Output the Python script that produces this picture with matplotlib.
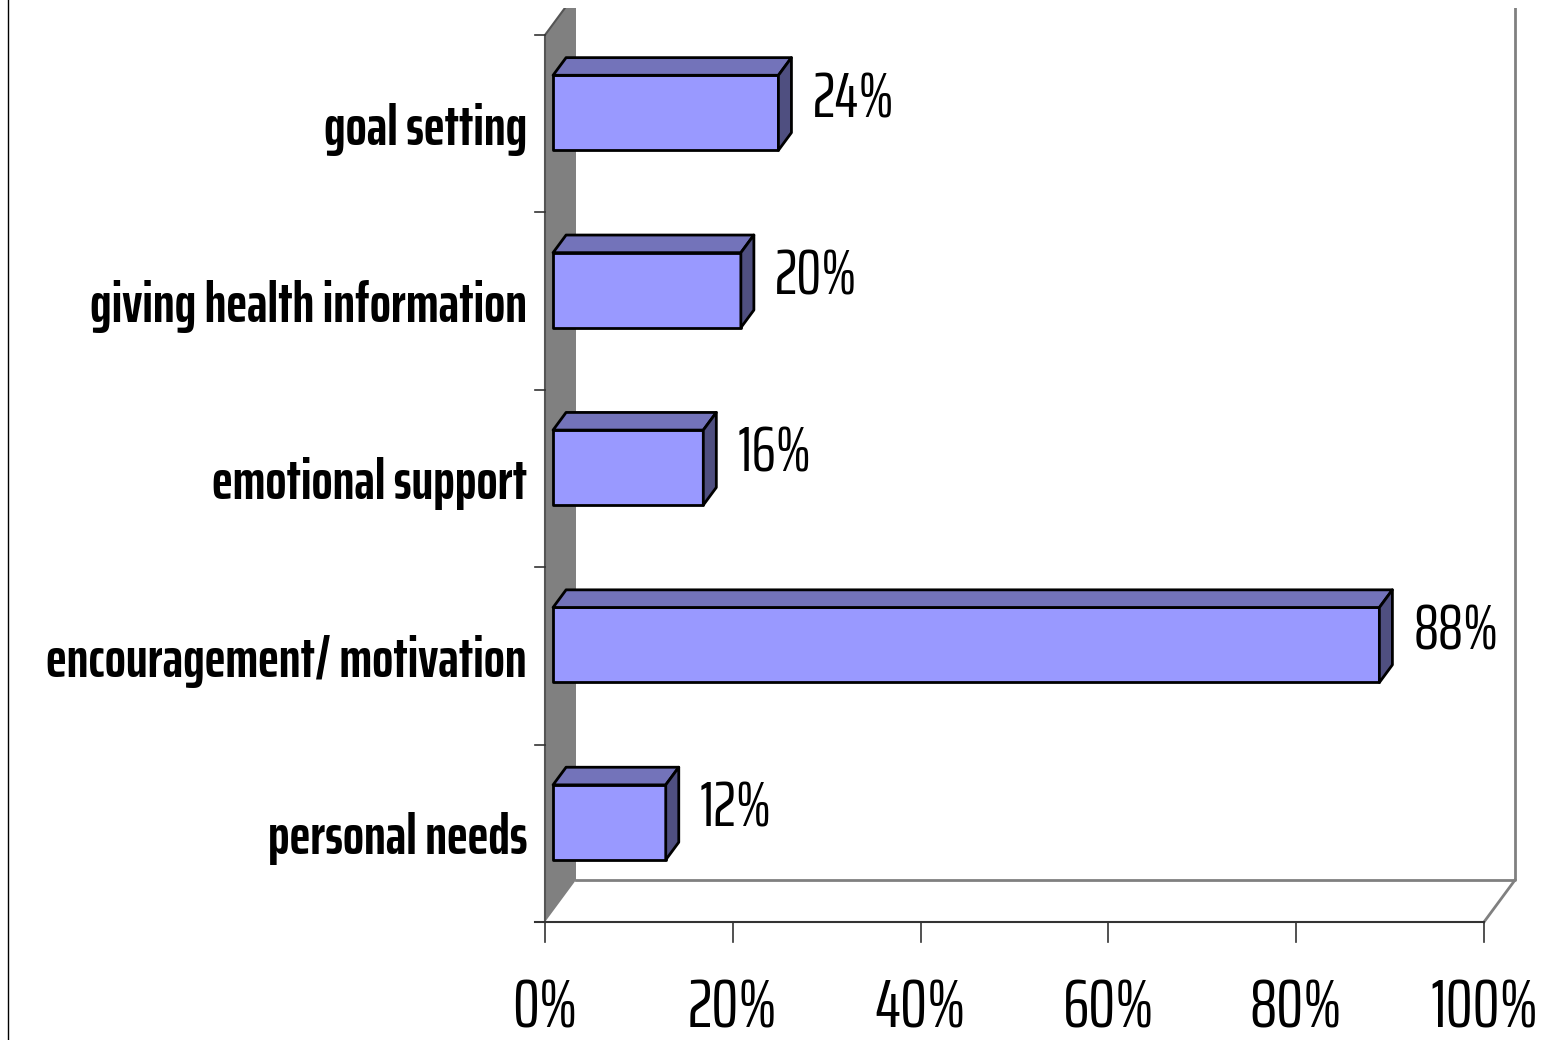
import matplotlib
matplotlib.use('Agg')
import matplotlib.pyplot as plt
from matplotlib.patches import Polygon, Rectangle
from matplotlib.lines import Line2D
import numpy as np

# Survey results, bottom category first
categories = ['personal needs', 'encouragement/ motivation', 'emotional support',
              'giving health information', 'goal setting']
values = [12, 88, 16, 20, 24]
x_ticks = [0, 20, 40, 60, 80, 100]
x_tick_labels = ['0%', '20%', '40%', '60%', '80%', '100%']

NARROW = ['Saira ExtraCondensed', 'Pragati Narrow', 'DejaVu Sans']

W, H = 1568, 1040
fig = plt.figure(figsize=(W / 100, H / 100), dpi=100)
fig.patch.set_facecolor('white')

# axes region = front plane of the 3-D box (pixels)
left, right, top, bottom = 545, 1484, 35, 922
ax = fig.add_axes([left / W, 1 - bottom / H, (right - left) / W, (bottom - top) / H])
ax.set_xlim(0, 100)
ax.set_ylim(0, len(categories))
ax.axis('off')

px_x = (right - left) / 100.0
px_y = (bottom - top) / len(categories)
depth = np.array([31 / px_x, 42 / px_y])     # full box depth, data units
n = len(categories)

clip = Rectangle((0, 0), 1, 1 - 8 / H, transform=fig.transFigure)


def add(artist, clipped=True):
    if isinstance(artist, Line2D):
        ax.add_line(artist)
    else:
        ax.add_patch(artist)
    if clipped:
        artist.set_clip_path(clip)
    else:
        artist.set_clip_on(False)
    return artist


dark = '#333333'
grey = '#808080'

# left wall
dx, dy = depth
add(Polygon([(0, 0), (0, n), (dx, n + dy), (dx, dy)], closed=True,
            facecolor=grey, edgecolor='none'))
add(Line2D([0, 0, dx], [0, n, n + dy], color='#555555', lw=1.5))

# floor and back walls
add(Line2D([dx, 100 + dx, 100 + dx], [dy, dy, n + dy], color=grey, lw=2))
add(Line2D([100, 100 + dx], [0, dy], color=grey, lw=2))

# front axis line + ticks
tick_x = 10 / px_x
add(Line2D([-tick_x, 100], [0, 0], color=dark, lw=1.5), clipped=False)
for k in range(n + 1):
    add(Line2D([-tick_x, 0], [k, k], color=dark, lw=1.2), clipped=False)
for t, lab in zip(x_ticks, x_tick_labels):
    add(Line2D([t, t], [0, -20 / px_y], color=dark, lw=1.2), clipped=False)
    ax.text(t, -106 / px_y, lab, ha='center', va='baseline', fontsize=49,
            family=NARROW, clip_on=False)

# 3-D bars
f0, f1 = 0.26, 0.68
o0 = f0 * depth
o1 = f1 * depth
half = 75 / px_y / 2
front_c, top_c, side_c = '#9999FF', '#7373BA', '#4F4F80'
edge = dict(edgecolor='black', lw=2.0, joinstyle='round')
for i, (cat, v) in enumerate(zip(categories, values)):
    c = i + 0.5
    y0, y1 = c - half, c + half
    add(Polygon([(o0[0], y0 + o0[1]), (v + o0[0], y0 + o0[1]),
                 (v + o0[0], y1 + o0[1]), (o0[0], y1 + o0[1])],
                facecolor=front_c, **edge), clipped=False)
    add(Polygon([(o0[0], y1 + o0[1]), (v + o0[0], y1 + o0[1]),
                 (v + o1[0], y1 + o1[1]), (o1[0], y1 + o1[1])],
                facecolor=top_c, **edge), clipped=False)
    add(Polygon([(v + o0[0], y0 + o0[1]), (v + o1[0], y0 + o1[1]),
                 (v + o1[0], y1 + o1[1]), (v + o0[0], y1 + o0[1])],
                facecolor=side_c, **edge), clipped=False)
    # value label beside the bar end
    ax.text(v + o1[0] + 21 / px_x, c + o1[1] - 22 / px_y, f'{v}%',
            ha='left', va='baseline', fontsize=45, family=NARROW, clip_on=False)
    # category label left of the wall
    ax.text(-18 / px_x, c - 21 / px_y, cat, ha='right', va='baseline',
            fontsize=40, fontweight='bold', family=NARROW, clip_on=False)

# slide border on the left
fig.add_artist(Line2D([8 / W, 8 / W], [0, 1], transform=fig.transFigure,
                      color='black', lw=1))

fig.savefig('out.png', dpi=100, facecolor='white')
